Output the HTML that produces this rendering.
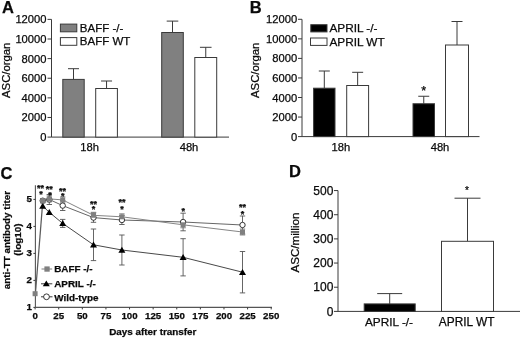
<!DOCTYPE html>
<html><head><meta charset="utf-8"><title>Figure</title>
<style>
html,body{margin:0;padding:0;background:#fff;}
body{width:520px;height:340px;overflow:hidden;}
svg{display:block;filter:blur(0.35px);font-family:"Liberation Sans",sans-serif;}
text{fill:#0a0a0a;stroke:#0a0a0a;stroke-width:0.25px;}
</style></head><body>
<svg width="520" height="340" viewBox="0 0 520 340">
<rect x="0" y="0" width="520" height="340" fill="#fff" stroke="none"/>
<text x="2.1" y="12.5" font-size="16.5" text-anchor="start" font-weight="bold">A</text>
<line x1="51.5" y1="19.38" x2="51.5" y2="137.1" stroke="#3a3a3a" stroke-width="1"/>
<line x1="51.5" y1="137.1" x2="229" y2="137.1" stroke="#3a3a3a" stroke-width="1"/>
<line x1="47.5" y1="137.1" x2="51.5" y2="137.1" stroke="#3a3a3a" stroke-width="1"/>
<text x="46.5" y="141.1" font-size="11.2" text-anchor="end">0</text>
<line x1="47.5" y1="117.48" x2="51.5" y2="117.48" stroke="#3a3a3a" stroke-width="1"/>
<text x="46.5" y="121.48" font-size="11.2" text-anchor="end">2000</text>
<line x1="47.5" y1="97.86" x2="51.5" y2="97.86" stroke="#3a3a3a" stroke-width="1"/>
<text x="46.5" y="101.86" font-size="11.2" text-anchor="end">4000</text>
<line x1="47.5" y1="78.24" x2="51.5" y2="78.24" stroke="#3a3a3a" stroke-width="1"/>
<text x="46.5" y="82.24" font-size="11.2" text-anchor="end">6000</text>
<line x1="47.5" y1="58.62" x2="51.5" y2="58.62" stroke="#3a3a3a" stroke-width="1"/>
<text x="46.5" y="62.62" font-size="11.2" text-anchor="end">8000</text>
<line x1="47.5" y1="39" x2="51.5" y2="39" stroke="#3a3a3a" stroke-width="1"/>
<text x="46.5" y="43" font-size="11.2" text-anchor="end">10000</text>
<line x1="47.5" y1="19.38" x2="51.5" y2="19.38" stroke="#3a3a3a" stroke-width="1"/>
<text x="46.5" y="23.38" font-size="11.2" text-anchor="end">12000</text>
<text transform="translate(9.6,70.3) rotate(-90)" font-size="11.3" text-anchor="middle">ASC/organ</text>
<line x1="73.5" y1="68.7" x2="73.5" y2="79.4" stroke="#3a3a3a" stroke-width="1"/>
<line x1="68.0" y1="68.7" x2="79.0" y2="68.7" stroke="#3a3a3a" stroke-width="1"/>
<rect x="62.8" y="79.4" width="21.4" height="57.7" fill="#808080" stroke="#3a3a3a" stroke-width="1"/>
<line x1="106.55" y1="81" x2="106.55" y2="88.5" stroke="#3a3a3a" stroke-width="1"/>
<line x1="101.05" y1="81" x2="112.05" y2="81" stroke="#3a3a3a" stroke-width="1"/>
<rect x="95.7" y="88.5" width="21.7" height="48.6" fill="#fff" stroke="#3a3a3a" stroke-width="1"/>
<line x1="172.5" y1="21.1" x2="172.5" y2="32.5" stroke="#3a3a3a" stroke-width="1"/>
<line x1="166.7" y1="21.1" x2="178.3" y2="21.1" stroke="#3a3a3a" stroke-width="1"/>
<rect x="161.7" y="32.5" width="21.6" height="104.6" fill="#808080" stroke="#3a3a3a" stroke-width="1"/>
<line x1="205.75" y1="47.3" x2="205.75" y2="57.5" stroke="#3a3a3a" stroke-width="1"/>
<line x1="199.95" y1="47.3" x2="211.55" y2="47.3" stroke="#3a3a3a" stroke-width="1"/>
<rect x="194.8" y="57.5" width="21.9" height="79.6" fill="#fff" stroke="#3a3a3a" stroke-width="1"/>
<text x="89.6" y="150.7" font-size="11.2" text-anchor="middle">18h</text>
<text x="189" y="150.7" font-size="11.2" text-anchor="middle">48h</text>
<rect x="60.4" y="24.1" width="16.4" height="7.7" fill="#808080" stroke="#3a3a3a" stroke-width="1"/>
<rect x="60.4" y="37.6" width="16.4" height="7.7" fill="#fff" stroke="#3a3a3a" stroke-width="1"/>
<text x="79.8" y="32.2" font-size="11.5" text-anchor="start">BAFF -/-</text>
<text x="79.8" y="45.4" font-size="11.5" text-anchor="start">BAFF WT</text>
<text x="249.7" y="12.5" font-size="16.5" text-anchor="start" font-weight="bold">B</text>
<line x1="302" y1="19.3" x2="302" y2="136.6" stroke="#3a3a3a" stroke-width="1"/>
<line x1="302" y1="136.6" x2="479.5" y2="136.6" stroke="#3a3a3a" stroke-width="1"/>
<line x1="298" y1="136.6" x2="302" y2="136.6" stroke="#3a3a3a" stroke-width="1"/>
<text x="297.2" y="140.6" font-size="11.2" text-anchor="end">0</text>
<line x1="298" y1="117.05" x2="302" y2="117.05" stroke="#3a3a3a" stroke-width="1"/>
<text x="297.2" y="121.05" font-size="11.2" text-anchor="end">2000</text>
<line x1="298" y1="97.5" x2="302" y2="97.5" stroke="#3a3a3a" stroke-width="1"/>
<text x="297.2" y="101.5" font-size="11.2" text-anchor="end">4000</text>
<line x1="298" y1="77.95" x2="302" y2="77.95" stroke="#3a3a3a" stroke-width="1"/>
<text x="297.2" y="81.95" font-size="11.2" text-anchor="end">6000</text>
<line x1="298" y1="58.4" x2="302" y2="58.4" stroke="#3a3a3a" stroke-width="1"/>
<text x="297.2" y="62.4" font-size="11.2" text-anchor="end">8000</text>
<line x1="298" y1="38.85" x2="302" y2="38.85" stroke="#3a3a3a" stroke-width="1"/>
<text x="297.2" y="42.85" font-size="11.2" text-anchor="end">10000</text>
<line x1="298" y1="19.3" x2="302" y2="19.3" stroke="#3a3a3a" stroke-width="1"/>
<text x="297.2" y="23.3" font-size="11.2" text-anchor="end">12000</text>
<text transform="translate(259.2,70.3) rotate(-90)" font-size="11.3" text-anchor="middle">ASC/organ</text>
<line x1="324.3" y1="71" x2="324.3" y2="88.2" stroke="#3a3a3a" stroke-width="1"/>
<line x1="318.8" y1="71" x2="329.8" y2="71" stroke="#3a3a3a" stroke-width="1"/>
<rect x="313.6" y="88.2" width="21.4" height="48.4" fill="#000" stroke="#3a3a3a" stroke-width="1"/>
<line x1="357.65" y1="72.3" x2="357.65" y2="85.5" stroke="#3a3a3a" stroke-width="1"/>
<line x1="352.15" y1="72.3" x2="363.15" y2="72.3" stroke="#3a3a3a" stroke-width="1"/>
<rect x="346.7" y="85.5" width="21.9" height="51.1" fill="#fff" stroke="#3a3a3a" stroke-width="1"/>
<line x1="423.75" y1="96.25" x2="423.75" y2="103.75" stroke="#3a3a3a" stroke-width="1"/>
<line x1="418.25" y1="96.25" x2="429.25" y2="96.25" stroke="#3a3a3a" stroke-width="1"/>
<rect x="413" y="103.75" width="21.5" height="32.85" fill="#000" stroke="#3a3a3a" stroke-width="1"/>
<line x1="457.0" y1="21.5" x2="457.0" y2="45" stroke="#3a3a3a" stroke-width="1"/>
<line x1="451.5" y1="21.5" x2="462.5" y2="21.5" stroke="#3a3a3a" stroke-width="1"/>
<rect x="445.5" y="45" width="23.0" height="91.6" fill="#fff" stroke="#3a3a3a" stroke-width="1"/>
<text x="340.8" y="150.7" font-size="11.2" text-anchor="middle">18h</text>
<text x="440" y="150.7" font-size="11.2" text-anchor="middle">48h</text>
<text x="423.7" y="95.3" font-size="12.6" text-anchor="middle">*</text>
<rect x="310.8" y="24.7" width="16.2" height="7.2" fill="#000" stroke="#3a3a3a" stroke-width="1"/>
<rect x="310.5" y="38" width="16.5" height="7.4" fill="#fff" stroke="#3a3a3a" stroke-width="1"/>
<text x="329.4" y="32.2" font-size="11.8" text-anchor="start">APRIL -/-</text>
<text x="329.4" y="45.7" font-size="11.8" text-anchor="start">APRIL WT</text>
<text x="0.6" y="178.5" font-size="16.5" text-anchor="start" font-weight="bold">C</text>
<line x1="35.4" y1="185.3" x2="35.4" y2="307.4" stroke="#555" stroke-width="1.1"/>
<line x1="35.4" y1="307.4" x2="272" y2="307.4" stroke="#555" stroke-width="1.1"/>
<line x1="33.4" y1="307.4" x2="35.4" y2="307.4" stroke="#3a3a3a" stroke-width="1"/>
<text x="31.9" y="310.3" font-size="9.8" text-anchor="end" font-weight="bold">1</text>
<line x1="33.4" y1="280.4" x2="35.4" y2="280.4" stroke="#3a3a3a" stroke-width="1"/>
<text x="31.9" y="283.3" font-size="9.8" text-anchor="end" font-weight="bold">2</text>
<line x1="33.4" y1="253.4" x2="35.4" y2="253.4" stroke="#3a3a3a" stroke-width="1"/>
<text x="31.9" y="256.3" font-size="9.8" text-anchor="end" font-weight="bold">3</text>
<line x1="33.4" y1="226.4" x2="35.4" y2="226.4" stroke="#3a3a3a" stroke-width="1"/>
<text x="31.9" y="229.3" font-size="9.8" text-anchor="end" font-weight="bold">4</text>
<line x1="33.4" y1="199.4" x2="35.4" y2="199.4" stroke="#3a3a3a" stroke-width="1"/>
<text x="31.9" y="202.3" font-size="9.8" text-anchor="end" font-weight="bold">5</text>
<line x1="35.1" y1="307.4" x2="35.1" y2="309.4" stroke="#3a3a3a" stroke-width="1"/>
<text x="35.1" y="319.2" font-size="9.7" text-anchor="middle" font-weight="bold">0</text>
<line x1="58.71" y1="307.4" x2="58.71" y2="309.4" stroke="#3a3a3a" stroke-width="1"/>
<text x="58.71" y="319.2" font-size="9.7" text-anchor="middle" font-weight="bold">25</text>
<line x1="82.32" y1="307.4" x2="82.32" y2="309.4" stroke="#3a3a3a" stroke-width="1"/>
<text x="82.32" y="319.2" font-size="9.7" text-anchor="middle" font-weight="bold">50</text>
<line x1="105.93" y1="307.4" x2="105.93" y2="309.4" stroke="#3a3a3a" stroke-width="1"/>
<text x="105.93" y="319.2" font-size="9.7" text-anchor="middle" font-weight="bold">75</text>
<line x1="129.54" y1="307.4" x2="129.54" y2="309.4" stroke="#3a3a3a" stroke-width="1"/>
<text x="129.54" y="319.2" font-size="9.7" text-anchor="middle" font-weight="bold">100</text>
<line x1="153.15" y1="307.4" x2="153.15" y2="309.4" stroke="#3a3a3a" stroke-width="1"/>
<text x="153.15" y="319.2" font-size="9.7" text-anchor="middle" font-weight="bold">125</text>
<line x1="176.76" y1="307.4" x2="176.76" y2="309.4" stroke="#3a3a3a" stroke-width="1"/>
<text x="176.76" y="319.2" font-size="9.7" text-anchor="middle" font-weight="bold">150</text>
<line x1="200.37" y1="307.4" x2="200.37" y2="309.4" stroke="#3a3a3a" stroke-width="1"/>
<text x="200.37" y="319.2" font-size="9.7" text-anchor="middle" font-weight="bold">175</text>
<line x1="223.98" y1="307.4" x2="223.98" y2="309.4" stroke="#3a3a3a" stroke-width="1"/>
<text x="223.98" y="319.2" font-size="9.7" text-anchor="middle" font-weight="bold">200</text>
<line x1="247.59" y1="307.4" x2="247.59" y2="309.4" stroke="#3a3a3a" stroke-width="1"/>
<text x="247.59" y="319.2" font-size="9.7" text-anchor="middle" font-weight="bold">225</text>
<line x1="271.2" y1="307.4" x2="271.2" y2="309.4" stroke="#3a3a3a" stroke-width="1"/>
<text x="271.2" y="319.2" font-size="9.7" text-anchor="middle" font-weight="bold">250</text>
<text x="109.2" y="334.5" font-size="9.9" text-anchor="start" font-weight="bold">Days after transfer</text>
<text transform="translate(9.9,240.1) rotate(-90)" font-size="9.9" font-weight="bold" text-anchor="middle">anti-TT antibody titer</text>
<text transform="translate(20.5,239.6) rotate(-90)" font-size="9.9" font-weight="bold" text-anchor="middle">(log10)</text>
<line x1="42.7" y1="198.7" x2="42.7" y2="202.7" stroke="#555" stroke-width="0.9"/>
<line x1="40.0" y1="198.7" x2="45.4" y2="198.7" stroke="#555" stroke-width="0.9"/>
<line x1="40.0" y1="202.7" x2="45.4" y2="202.7" stroke="#555" stroke-width="0.9"/>
<line x1="42.7" y1="198.7" x2="42.7" y2="202.7" stroke="#808080" stroke-width="0.9"/>
<line x1="40.0" y1="198.7" x2="45.4" y2="198.7" stroke="#808080" stroke-width="0.9"/>
<line x1="40.0" y1="202.7" x2="45.4" y2="202.7" stroke="#808080" stroke-width="0.9"/>
<line x1="49.3" y1="194.5" x2="49.3" y2="204.5" stroke="#555" stroke-width="0.9"/>
<line x1="46.6" y1="194.5" x2="52.0" y2="194.5" stroke="#555" stroke-width="0.9"/>
<line x1="46.6" y1="204.5" x2="52.0" y2="204.5" stroke="#555" stroke-width="0.9"/>
<line x1="49.3" y1="195.9" x2="49.3" y2="201.9" stroke="#808080" stroke-width="0.9"/>
<line x1="46.6" y1="195.9" x2="52.0" y2="195.9" stroke="#808080" stroke-width="0.9"/>
<line x1="46.6" y1="201.9" x2="52.0" y2="201.9" stroke="#808080" stroke-width="0.9"/>
<line x1="62.7" y1="219.4" x2="62.7" y2="227.4" stroke="#555" stroke-width="0.9"/>
<line x1="60.0" y1="219.4" x2="65.4" y2="219.4" stroke="#555" stroke-width="0.9"/>
<line x1="60.0" y1="227.4" x2="65.4" y2="227.4" stroke="#555" stroke-width="0.9"/>
<line x1="62.7" y1="200.7" x2="62.7" y2="210.5" stroke="#555" stroke-width="0.9"/>
<line x1="60.0" y1="200.7" x2="65.4" y2="200.7" stroke="#555" stroke-width="0.9"/>
<line x1="60.0" y1="210.5" x2="65.4" y2="210.5" stroke="#555" stroke-width="0.9"/>
<line x1="62.7" y1="196.9" x2="62.7" y2="202.9" stroke="#808080" stroke-width="0.9"/>
<line x1="60.0" y1="196.9" x2="65.4" y2="196.9" stroke="#808080" stroke-width="0.9"/>
<line x1="60.0" y1="202.9" x2="65.4" y2="202.9" stroke="#808080" stroke-width="0.9"/>
<line x1="93.5" y1="229.0" x2="93.5" y2="260.6" stroke="#555" stroke-width="0.9"/>
<line x1="90.8" y1="229.0" x2="96.2" y2="229.0" stroke="#555" stroke-width="0.9"/>
<line x1="90.8" y1="260.6" x2="96.2" y2="260.6" stroke="#555" stroke-width="0.9"/>
<line x1="93.5" y1="212.9" x2="93.5" y2="222.3" stroke="#555" stroke-width="0.9"/>
<line x1="90.8" y1="212.9" x2="96.2" y2="212.9" stroke="#555" stroke-width="0.9"/>
<line x1="90.8" y1="222.3" x2="96.2" y2="222.3" stroke="#555" stroke-width="0.9"/>
<line x1="93.5" y1="212.3" x2="93.5" y2="218.3" stroke="#808080" stroke-width="0.9"/>
<line x1="90.8" y1="212.3" x2="96.2" y2="212.3" stroke="#808080" stroke-width="0.9"/>
<line x1="90.8" y1="218.3" x2="96.2" y2="218.3" stroke="#808080" stroke-width="0.9"/>
<line x1="121.9" y1="235" x2="121.9" y2="265" stroke="#555" stroke-width="0.9"/>
<line x1="119.2" y1="235" x2="124.6" y2="235" stroke="#555" stroke-width="0.9"/>
<line x1="119.2" y1="265" x2="124.6" y2="265" stroke="#555" stroke-width="0.9"/>
<line x1="121.9" y1="215.5" x2="121.9" y2="224.5" stroke="#555" stroke-width="0.9"/>
<line x1="119.2" y1="215.5" x2="124.6" y2="215.5" stroke="#555" stroke-width="0.9"/>
<line x1="119.2" y1="224.5" x2="124.6" y2="224.5" stroke="#555" stroke-width="0.9"/>
<line x1="121.9" y1="213.8" x2="121.9" y2="219.8" stroke="#808080" stroke-width="0.9"/>
<line x1="119.2" y1="213.8" x2="124.6" y2="213.8" stroke="#808080" stroke-width="0.9"/>
<line x1="119.2" y1="219.8" x2="124.6" y2="219.8" stroke="#808080" stroke-width="0.9"/>
<line x1="183.1" y1="238.7" x2="183.1" y2="275.9" stroke="#555" stroke-width="0.9"/>
<line x1="180.4" y1="238.7" x2="185.8" y2="238.7" stroke="#555" stroke-width="0.9"/>
<line x1="180.4" y1="275.9" x2="185.8" y2="275.9" stroke="#555" stroke-width="0.9"/>
<line x1="183.1" y1="213.2" x2="183.1" y2="230.8" stroke="#555" stroke-width="0.9"/>
<line x1="180.4" y1="213.2" x2="185.8" y2="213.2" stroke="#555" stroke-width="0.9"/>
<line x1="180.4" y1="230.8" x2="185.8" y2="230.8" stroke="#555" stroke-width="0.9"/>
<line x1="183.1" y1="221.8" x2="183.1" y2="227.8" stroke="#808080" stroke-width="0.9"/>
<line x1="180.4" y1="221.8" x2="185.8" y2="221.8" stroke="#808080" stroke-width="0.9"/>
<line x1="180.4" y1="227.8" x2="185.8" y2="227.8" stroke="#808080" stroke-width="0.9"/>
<line x1="242.5" y1="251.5" x2="242.5" y2="292.9" stroke="#555" stroke-width="0.9"/>
<line x1="239.8" y1="251.5" x2="245.2" y2="251.5" stroke="#555" stroke-width="0.9"/>
<line x1="239.8" y1="292.9" x2="245.2" y2="292.9" stroke="#555" stroke-width="0.9"/>
<line x1="242.5" y1="216" x2="242.5" y2="234" stroke="#555" stroke-width="0.9"/>
<line x1="239.8" y1="216" x2="245.2" y2="216" stroke="#555" stroke-width="0.9"/>
<line x1="239.8" y1="234" x2="245.2" y2="234" stroke="#555" stroke-width="0.9"/>
<line x1="242.5" y1="229" x2="242.5" y2="235" stroke="#808080" stroke-width="0.9"/>
<line x1="239.8" y1="229" x2="245.2" y2="229" stroke="#808080" stroke-width="0.9"/>
<line x1="239.8" y1="235" x2="245.2" y2="235" stroke="#808080" stroke-width="0.9"/>
<line x1="35.4" y1="293.7" x2="42.75" y2="201.7" stroke="#5a5a5a" stroke-width="1.25"/>
<polyline fill="none" stroke="#333" stroke-width="0.9" points="42.7,206 49.3,212.3 62.7,223.4 93.5,244.8 121.9,250 183.1,257.3 242.5,272.2"/>
<polyline fill="none" stroke="#555" stroke-width="0.9" points="42.7,200.7 49.3,199.5 62.7,205.6 93.5,217.6 121.9,220 183.1,222.0 242.5,225"/>
<polyline fill="none" stroke="#777" stroke-width="0.9" points="42.7,200.7 49.3,198.9 62.7,199.9 93.5,215.3 121.9,216.8 183.1,224.8 242.5,232"/>
<polygon points="39.2,208.7 46.2,208.7 42.7,202.7" fill="#000"/>
<polygon points="45.8,215.0 52.8,215.0 49.3,209.0" fill="#000"/>
<polygon points="59.2,226.1 66.2,226.1 62.7,220.1" fill="#000"/>
<polygon points="90.0,247.5 97.0,247.5 93.5,241.5" fill="#000"/>
<polygon points="118.4,252.7 125.4,252.7 121.9,246.7" fill="#000"/>
<polygon points="179.6,260.0 186.6,260.0 183.1,254.0" fill="#000"/>
<polygon points="239.0,274.9 246.0,274.9 242.5,268.9" fill="#000"/>
<circle cx="42.7" cy="200.7" r="2.7" fill="#fff" stroke="#222" stroke-width="0.9"/>
<circle cx="49.3" cy="199.5" r="2.7" fill="#fff" stroke="#222" stroke-width="0.9"/>
<circle cx="62.7" cy="205.6" r="2.7" fill="#fff" stroke="#222" stroke-width="0.9"/>
<circle cx="93.5" cy="217.6" r="2.7" fill="#fff" stroke="#222" stroke-width="0.9"/>
<circle cx="121.9" cy="220" r="2.7" fill="#fff" stroke="#222" stroke-width="0.9"/>
<circle cx="183.1" cy="222.0" r="2.7" fill="#fff" stroke="#222" stroke-width="0.9"/>
<circle cx="242.5" cy="225" r="2.7" fill="#fff" stroke="#222" stroke-width="0.9"/>
<rect x="32.6" y="291.2" width="5" height="5" fill="#808080"/>
<rect x="40.2" y="198.2" width="5" height="5" fill="#808080"/>
<rect x="46.8" y="196.4" width="5" height="5" fill="#808080"/>
<rect x="60.2" y="197.4" width="5" height="5" fill="#808080"/>
<rect x="91.0" y="212.8" width="5" height="5" fill="#808080"/>
<rect x="119.4" y="214.3" width="5" height="5" fill="#808080"/>
<rect x="180.6" y="222.3" width="5" height="5" fill="#808080"/>
<rect x="240.0" y="229.5" width="5" height="5" fill="#808080"/>
<text x="40.6" y="191.2" font-size="9" text-anchor="middle" font-weight="bold">**</text>
<text x="41" y="197.1" font-size="9" text-anchor="middle" font-weight="bold">*</text>
<text x="49.2" y="192.1" font-size="9" text-anchor="middle" font-weight="bold">**</text>
<text x="49.9" y="197.5" font-size="9" text-anchor="middle" font-weight="bold">*</text>
<text x="62.4" y="193.8" font-size="9" text-anchor="middle" font-weight="bold">**</text>
<text x="62.7" y="199.1" font-size="9" text-anchor="middle" font-weight="bold">*</text>
<text x="93.6" y="206.7" font-size="9" text-anchor="middle" font-weight="bold">**</text>
<text x="93.6" y="211.7" font-size="9" text-anchor="middle" font-weight="bold">*</text>
<text x="122" y="204.9" font-size="9" text-anchor="middle" font-weight="bold">**</text>
<text x="122" y="211.5" font-size="9" text-anchor="middle" font-weight="bold">*</text>
<text x="183.2" y="214.3" font-size="9" text-anchor="middle" font-weight="bold">*</text>
<text x="242.5" y="209.7" font-size="9" text-anchor="middle" font-weight="bold">**</text>
<text x="242.5" y="216.5" font-size="9" text-anchor="middle" font-weight="bold">*</text>
<line x1="41.5" y1="269" x2="52.2" y2="269" stroke="#808080" stroke-width="1"/>
<rect x="44.4" y="266.4" width="5.3" height="5.3" fill="#808080"/>
<text x="54.2" y="272.3" font-size="9.9" text-anchor="start" font-weight="bold">BAFF -/-</text>
<line x1="41" y1="283.8" x2="52.3" y2="283.8" stroke="#3a3a3a" stroke-width="1"/>
<polygon points="42.8,286.3 49.8,286.3 46.3,280.5" fill="#000"/>
<text x="54.2" y="286.5" font-size="9.9" text-anchor="start" font-weight="bold">APRIL -/-</text>
<line x1="41" y1="296.8" x2="52.5" y2="296.8" stroke="#3a3a3a" stroke-width="1"/>
<circle cx="46.5" cy="296.8" r="2.9" fill="#fff" stroke="#222" stroke-width="0.9"/>
<text x="54.2" y="300.5" font-size="9.9" text-anchor="start" font-weight="bold">Wild-type</text>
<text x="289" y="177" font-size="16.5" text-anchor="start" font-weight="bold">D</text>
<line x1="338" y1="190.55" x2="338" y2="311.4" stroke="#3a3a3a" stroke-width="1"/>
<line x1="338" y1="311.4" x2="520" y2="311.4" stroke="#3a3a3a" stroke-width="1"/>
<line x1="334" y1="311.4" x2="338" y2="311.4" stroke="#3a3a3a" stroke-width="1"/>
<text x="333.4" y="315.6" font-size="12" text-anchor="end">0</text>
<line x1="334" y1="287.23" x2="338" y2="287.23" stroke="#3a3a3a" stroke-width="1"/>
<text x="333.4" y="291.43" font-size="12" text-anchor="end">100</text>
<line x1="334" y1="263.06" x2="338" y2="263.06" stroke="#3a3a3a" stroke-width="1"/>
<text x="333.4" y="267.26" font-size="12" text-anchor="end">200</text>
<line x1="334" y1="238.89" x2="338" y2="238.89" stroke="#3a3a3a" stroke-width="1"/>
<text x="333.4" y="243.09" font-size="12" text-anchor="end">300</text>
<line x1="334" y1="214.72" x2="338" y2="214.72" stroke="#3a3a3a" stroke-width="1"/>
<text x="333.4" y="218.92" font-size="12" text-anchor="end">400</text>
<line x1="334" y1="190.55" x2="338" y2="190.55" stroke="#3a3a3a" stroke-width="1"/>
<text x="333.4" y="194.75" font-size="12" text-anchor="end">500</text>
<text transform="translate(298.6,242.6) rotate(-90)" font-size="11.6" text-anchor="middle">ASC/million</text>
<line x1="389.7" y1="293.6" x2="389.7" y2="303.9" stroke="#3a3a3a" stroke-width="1"/>
<line x1="377.2" y1="293.6" x2="402.2" y2="293.6" stroke="#3a3a3a" stroke-width="1"/>
<rect x="364.2" y="303.9" width="51.0" height="7.5" fill="#000" stroke="#3a3a3a" stroke-width="1"/>
<line x1="467.5" y1="198.2" x2="467.5" y2="241.3" stroke="#3a3a3a" stroke-width="1"/>
<line x1="454.5" y1="198.2" x2="480.5" y2="198.2" stroke="#3a3a3a" stroke-width="1"/>
<rect x="441.5" y="241.3" width="52.0" height="70.1" fill="#fff" stroke="#3a3a3a" stroke-width="1"/>
<text x="389" y="326" font-size="11.8" text-anchor="middle">APRIL -/-</text>
<text x="466.7" y="326" font-size="11.9" text-anchor="middle">APRIL WT</text>
<text x="467" y="194" font-size="10" text-anchor="middle">*</text>
</svg>
</body></html>
